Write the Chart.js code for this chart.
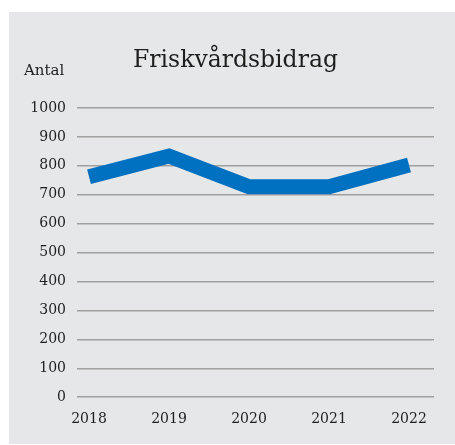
<!DOCTYPE html>
<html>
<head>
<meta charset="utf-8">
<script src="https://cdn.jsdelivr.net/npm/chart.js@4"></script>
<style>
  html, body { margin: 0; padding: 0; background: #ffffff; }
  #wrap { width: 455px; height: 445px; }
</style>
</head>
<body>
<div id="wrap"><canvas id="c" width="455" height="445"></canvas></div>
<script>
const years = [2018, 2019, 2020, 2021, 2022];
const values = [762, 834, 728, 728, 803];
const yTicks = [0, 100, 200, 300, 400, 500, 600, 700, 800, 900, 1000];
const titleText = 'Friskvårdsbidrag';
const yUnit = 'Antal';

const serif = '"DejaVu Serif", "Liberation Serif", serif';
const textColor = '#1e1e1e';

const panelPlugin = {
  id: 'panel',
  beforeDraw(chart) {
    const ctx = chart.ctx;
    ctx.save();
    ctx.fillStyle = '#e6e7e8';
    ctx.fillRect(9, 12, 446, 432);
    ctx.restore();
  },
  afterDraw(chart) {
    const ctx = chart.ctx;
    ctx.save();
    ctx.fillStyle = textColor;
    ctx.textBaseline = 'middle';
    ctx.font = '15px ' + serif;
    ctx.textAlign = 'left';
    ctx.fillText(yUnit, 24, 71);
    ctx.font = '23.5px ' + serif;
    ctx.textAlign = 'center';
    ctx.fillText(titleText, 235.5, 61);
    ctx.restore();
  }
};

new Chart(document.getElementById('c'), {
  type: 'line',
  data: {
    datasets: [{
      data: years.map((y, i) => ({ x: y, y: values[i] })),
      borderColor: '#0070c0',
      borderWidth: 15,
      borderCapStyle: 'butt',
      borderJoinStyle: 'miter',
      tension: 0,
      pointRadius: 0,
      pointHoverRadius: 0,
      fill: false
    }]
  },
  options: {
    responsive: false,
    animation: false,
    devicePixelRatio: 1,
    layout: { padding: { left: 9, top: 108, right: 21, bottom: 3 } },
    plugins: {
      legend: { display: false },
      tooltip: { enabled: false },
      title: { display: false }
    },
    scales: {
      x: {
        type: 'linear',
        min: 2017.85,
        max: 2022.3125,
        afterBuildTicks(scale) { scale.ticks = years.map(v => ({ value: v })); },
        grid: { display: false, drawTicks: false },
        border: { display: false },
        ticks: {
          color: textColor,
          font: { family: serif, size: 14 },
          padding: 14,
          maxRotation: 0,
          autoSkip: false,
          callback: (v) => String(v)
        }
      },
      y: {
        min: 0,
        max: 1000,
        afterBuildTicks(scale) { scale.ticks = yTicks.map(v => ({ value: v })); },
        afterFit(scale) { scale.width = 68; },
        grid: { color: '#a0a0a0', lineWidth: 1.5, drawTicks: false },
        border: { display: false },
        ticks: {
          color: textColor,
          font: { family: serif, size: 14 },
          padding: 11,
          callback: (v) => String(v)
        }
      }
    }
  },
  plugins: [panelPlugin]
});
</script>
</body>
</html>
